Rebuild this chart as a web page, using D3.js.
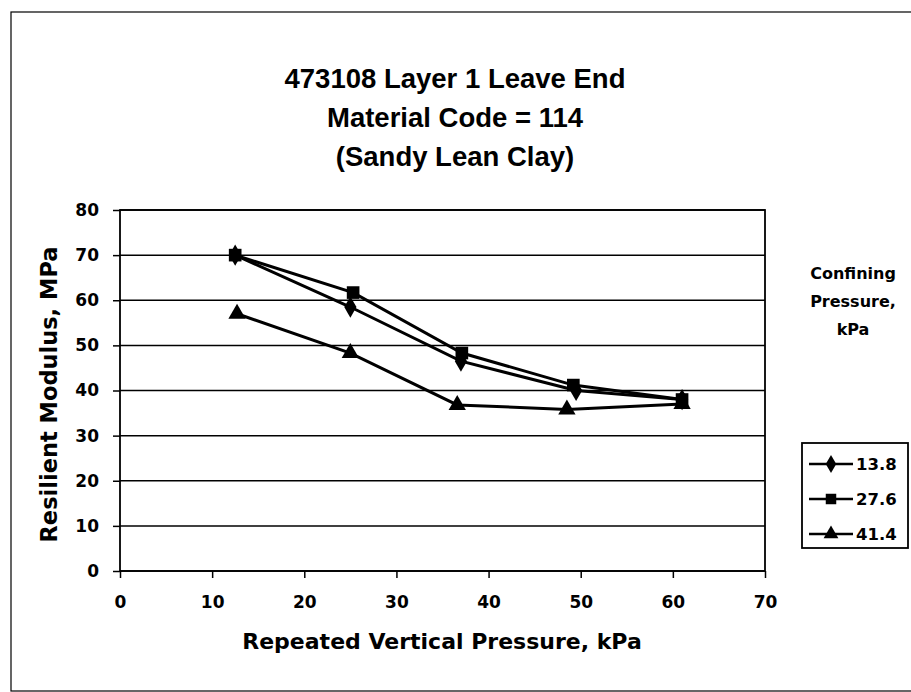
<!DOCTYPE html>
<html>
<head>
<meta charset="utf-8">
<script src="https://cdn.jsdelivr.net/npm/d3@7"></script>
<style>
  body { margin: 0; background: #fff; }
  text { font-family: "DejaVu Sans", sans-serif; font-weight: bold; fill: #000; }
  text.title { font-family: "Liberation Sans", Arial, sans-serif; }
</style>
</head>
<body>
<svg id="chart" width="911" height="692"></svg>
<script>
// values
const titleLines = ['473108 Layer 1 Leave End', 'Material Code = 114', '(Sandy Lean Clay)'];
const seriesNames = ['13.8', '27.6', '41.4'];
const seriesX = [
    [12.5, 25, 37, 49.5, 61],
    [12.5, 25.3, 37.1, 49.2, 61],
    [12.7, 25, 36.6, 48.5, 61]
];
const seriesY = [
    [70, 58.5, 46.5, 40, 38],
    [70, 61.7, 48.3, 41.2, 38],
    [57, 48.3, 36.8, 35.8, 37]
];
const markers = [d3.symbolDiamond, d3.symbolSquare, d3.symbolTriangle];
const xTicks = [0, 10, 20, 30, 40, 50, 60, 70];
const yTicks = [0, 10, 20, 30, 40, 50, 60, 70, 80];

const svg = d3.select('#chart');

// outer frame of the scanned chart
svg.append('rect')
    .attr('x', 11).attr('y', 12)
    .attr('width', 905).attr('height', 679)
    .attr('fill', 'none').attr('stroke', '#000').attr('stroke-width', 1.2);

const plot = { left: 120, right: 765, top: 210, bottom: 571 };

const x = d3.scaleLinear().domain([0, 70]).range([plot.left, plot.right]);
const y = d3.scaleLinear().domain([0, 80]).range([plot.bottom, plot.top]);

// gridlines
svg.append('g')
    .selectAll('line')
    .data(yTicks)
    .join('line')
    .attr('x1', plot.left).attr('x2', plot.right)
    .attr('y1', d => y(d)).attr('y2', d => y(d))
    .attr('stroke', '#000').attr('stroke-width', 1.5);

svg.append('rect')
    .attr('x', plot.left).attr('y', plot.top)
    .attr('width', plot.right - plot.left).attr('height', plot.bottom - plot.top)
    .attr('fill', 'none').attr('stroke', '#000').attr('stroke-width', 1.8);

const xAxis = svg.append('g')
    .attr('transform', `translate(0,${plot.bottom})`)
    .call(d3.axisBottom(x).tickValues(xTicks).tickSize(7).tickPadding(18));
const yAxis = svg.append('g')
    .attr('transform', `translate(${plot.left},0)`)
    .call(d3.axisLeft(y).tickValues(yTicks).tickSize(7).tickPadding(14));

[xAxis, yAxis].forEach(a => {
    a.select('.domain').remove();
    a.selectAll('line').attr('stroke', '#000').attr('stroke-width', 1.5);
    a.selectAll('text').attr('font-size', 17);
});

// title (narrower face)
svg.append('g')
    .selectAll('text')
    .data(titleLines)
    .join('text')
    .attr('class', 'title')
    .attr('x', 455)
    .attr('y', (d, i) => 88 + i * 39)
    .attr('text-anchor', 'middle')
    .attr('font-size', 27.5)
    .text(d => d);

// axis titles
svg.append('text')
    .attr('x', 442).attr('y', 649)
    .attr('text-anchor', 'middle')
    .attr('font-size', 22)
    .text('Repeated Vertical Pressure, kPa');

svg.append('text')
    .attr('transform', `translate(57,${(plot.top + plot.bottom) / 2 + 4}) rotate(-90)`)
    .attr('text-anchor', 'middle')
    .attr('font-size', 22.5)
    .text('Resilient Modulus, MPa');

// series
const line = d3.line().x(d => x(d[0])).y(d => y(d[1]));

seriesNames.forEach((name, i) => {
    const pts = seriesX[i].map((v, j) => [v, seriesY[i][j]]);
    svg.append('path')
        .datum(pts)
        .attr('d', line)
        .attr('fill', 'none')
        .attr('stroke', '#000')
        .attr('stroke-width', 3);
    svg.append('g')
        .selectAll('path')
        .data(pts)
        .join('path')
        .attr('transform', d => `translate(${x(d[0])},${y(d[1])})`)
        .attr('d', d3.symbol().type(markers[i]).size(i === 1 ? 160 : 130))
        .attr('fill', '#000');
});

// legend heading
svg.append('g')
    .selectAll('text')
    .data(['Confining', 'Pressure,', 'kPa'])
    .join('text')
    .attr('x', 853)
    .attr('y', (d, i) => 279 + i * 28)
    .attr('text-anchor', 'middle')
    .attr('font-size', 16)
    .text(d => d);

// legend box
svg.append('rect')
    .attr('x', 802).attr('y', 443)
    .attr('width', 106).attr('height', 105)
    .attr('fill', '#fff').attr('stroke', '#000').attr('stroke-width', 1.8);

const legend = svg.append('g')
    .selectAll('g')
    .data(seriesNames)
    .join('g')
    .attr('transform', (d, i) => `translate(0,${464 + i * 35})`);

legend.append('line')
    .attr('x1', 809).attr('x2', 853)
    .attr('stroke', '#000').attr('stroke-width', 2.5);
legend.append('path')
    .attr('transform', 'translate(831,0)')
    .attr('d', (d, i) => d3.symbol().type(markers[i]).size(i === 1 ? 110 : 95)())
    .attr('fill', '#000');
legend.append('text')
    .attr('x', 856).attr('y', 6)
    .attr('font-size', 16.5)
    .text(d => d);
</script>
</body>
</html>
